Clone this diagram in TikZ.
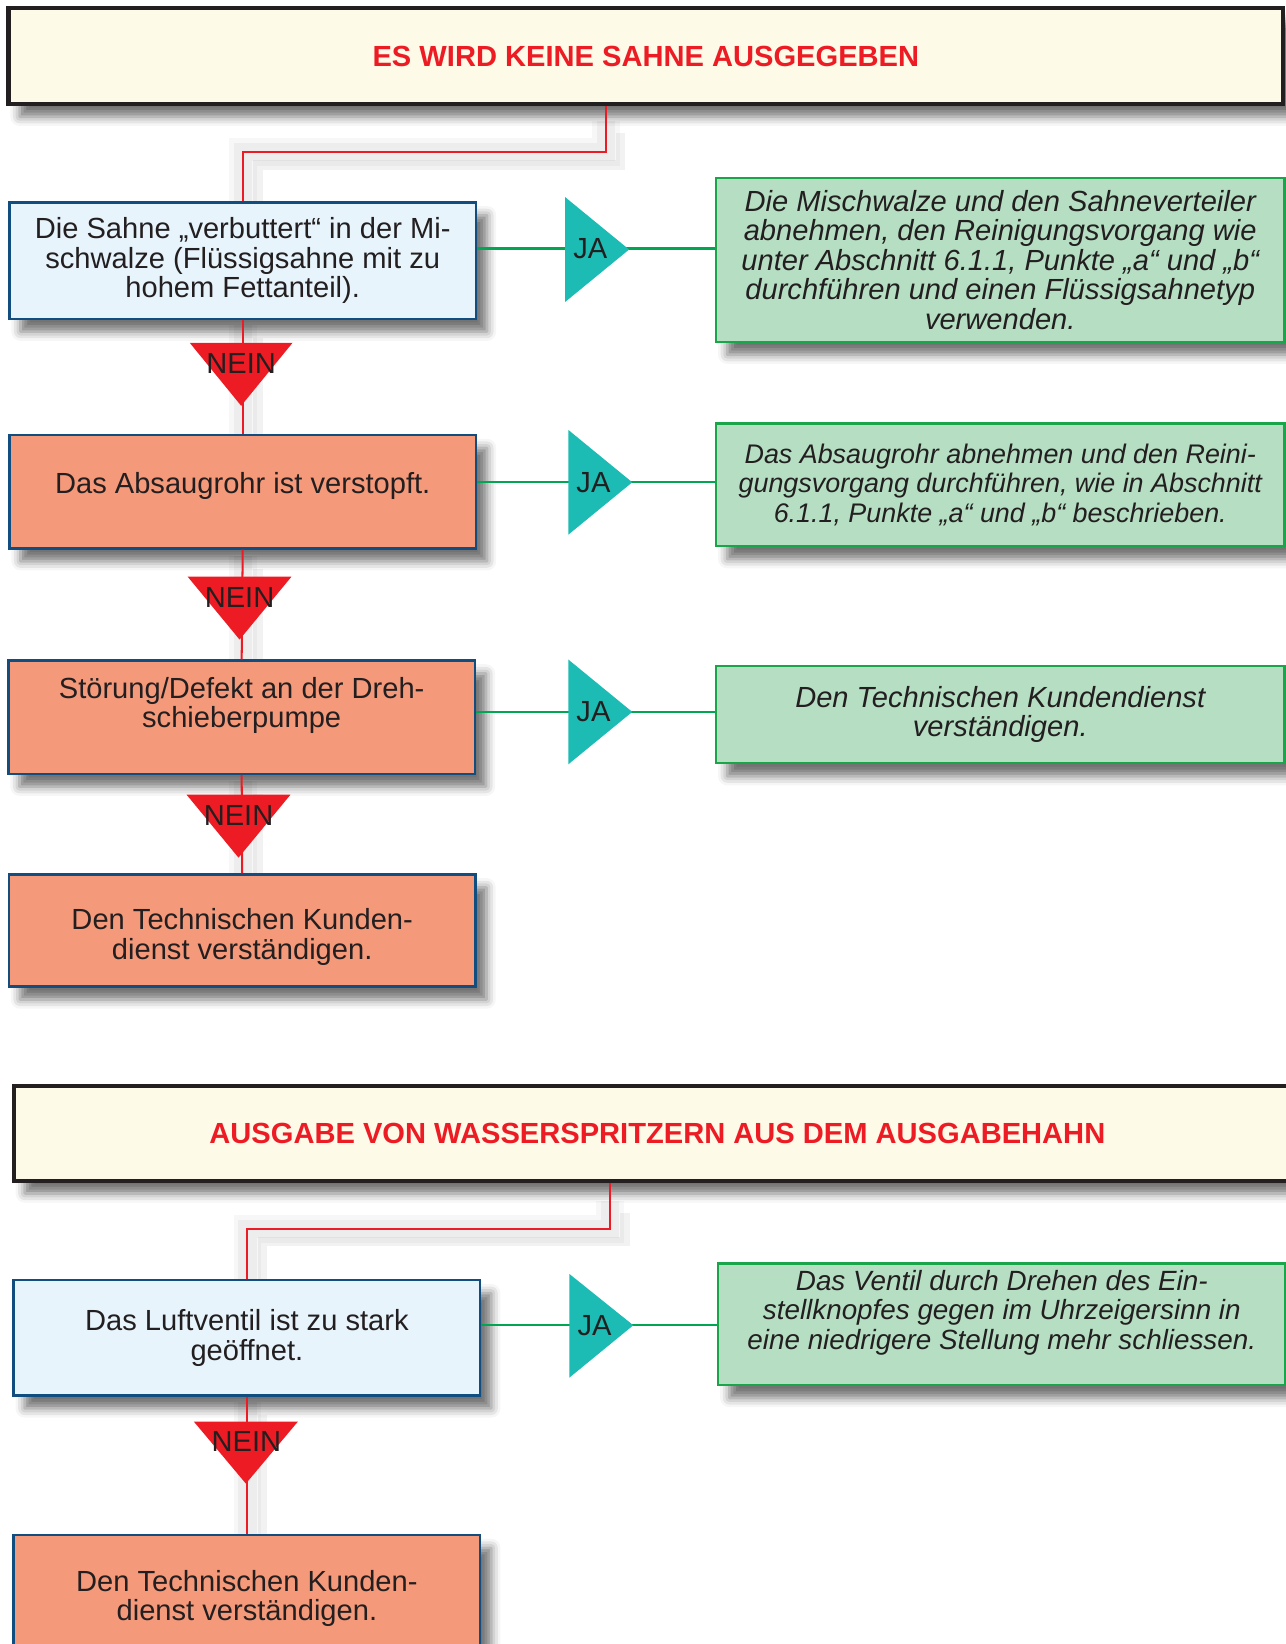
\documentclass[tikz,border=0pt]{standalone}
\usepackage{fontspec}
\setmainfont{Liberation Sans}
\usetikzlibrary{positioning,calc,shadows.blur}

\definecolor{titelrot}{HTML}{ED1C24}
\definecolor{titelrand}{HTML}{231F20}
\definecolor{creme}{HTML}{FEFAE8}
\definecolor{schrift}{HTML}{231F20}
\definecolor{frageblau}{HTML}{124D80}
\definecolor{hellblau}{HTML}{E7F4FB}
\definecolor{lachs}{HTML}{F4997A}
\definecolor{tuerkis}{HTML}{1CBBB4}
\definecolor{hellgruen}{HTML}{B5DEC2}
\definecolor{gruenrand}{HTML}{1BA54B}
\definecolor{jagruen}{HTML}{00A651}

\begin{document}
\begin{tikzpicture}[
  x=0.02cm, y=-0.02cm,
  boxschatten/.style={blur shadow={shadow xshift=6pt, shadow yshift=-7pt,
                      shadow blur radius=5pt, shadow opacity=55}},
  titel/.style={rectangle, draw=titelrand, line width=2.2pt, fill=creme,
                font=\fontsize{15.8}{16}\selectfont\bfseries, text=titelrot, boxschatten},
  frage/.style={rectangle, draw=frageblau, line width=1.3pt, minimum width=8.9cm,
                align=center, font=\fontsize{15.8}{16}\selectfont, text=schrift, boxschatten},
  frageblau/.style={frage, fill=hellblau},
  fragelachs/.style={frage, fill=lachs},
  antwort/.style={rectangle, draw=gruenrand, line width=1.3pt, fill=hellgruen,
                  minimum width=10.84cm, align=center, text=schrift,
                  font=\fontsize{15.8}{16}\selectfont\itshape, boxschatten},
  marke/.style={font=\fontsize{15.8}{16}\selectfont, text=schrift, inner sep=0pt},
  jatri/.style={fill=tuerkis},
  neintri/.style={fill=titelrot},
  jalinie/.style={draw=jagruen, line width=1.1pt},
  neinlinie/.style={draw=titelrot, line width=1.1pt},
  linienschatten/.style={draw=black, line width=5pt, draw opacity=0.05,
                         preaction={draw=black, line width=15pt, draw opacity=0.03},
                         preaction={draw=black, line width=10pt, draw opacity=0.04},
                         transform canvas={xshift=8pt, yshift=-7pt}},
]
  \useasboundingbox (0,0) rectangle (1226,1568);

  % ===== Block 1: keine Sahne =====
  \coordinate (k1) at (578,145);
  \draw[linienschatten] (578,115) -- (k1) -| (232,193);
  \draw[linienschatten] (232,310) -- (232,415);
  \draw[linienschatten] (232,530) -- (232,630);
  \draw[linienschatten] (232,745) -- (232,834);

  \node[titel, minimum width=24.32cm, minimum height=1.82cm] (titel1) at (616,53.5)
       {ES WIRD KEINE SAHNE AUSGEGEBEN};

  \node[frageblau, minimum height=2.22cm] (frage1) at (231.5,248.5)
       {Die Sahne „verbuttert“ in der Mi-\\schwalze (Flüssigsahne mit zu\\hohem Fettanteil).};
  \node[fragelachs, minimum height=2.16cm] (frage2) at (231.5,469)
       {\raisebox{3.4pt}[\height][\depth]{Das Absaugrohr ist verstopft.}};
  \node[fragelachs, minimum height=2.16cm] (frage3) at (230.5,684)
       {Störung/Defekt an der Dreh-\\schieberpumpe\\\mbox{}};
  \node[fragelachs, minimum height=2.14cm] (frage4) at (231,887.5)
       {\raisebox{-3.4pt}[\height][\depth]{Den Technischen Kunden-}\\
        \raisebox{-3.4pt}[\height][\depth]{dienst verständigen.}};

  \node[antwort, minimum height=3.12cm] (antwort1) at (954,248)
       {Die Mischwalze und den Sahneverteiler\\abnehmen, den Reinigungsvorgang wie\\unter Abschnitt 6.1.1, Punkte „a“ und „b“\\durchführen und einen Flüssigsahnetyp\\verwenden.};
  \node[antwort, minimum height=2.34cm, font=\fontsize{14.6}{16}\selectfont\itshape] (antwort2) at (954,462.5)
       {Das Absaugrohr abnehmen und den Reini-\\gungsvorgang durchführen, wie in Abschnitt\\6.1.1, Punkte „a“ und „b“ beschrieben.};
  \node[antwort, minimum height=1.86cm] (antwort3) at (954,681.5)
       {Den Technischen Kundendienst\\verständigen.};

  % connectors
  \draw[neinlinie] (titel1.south -| k1) -- (k1) -| (frage1.north);
  \draw[neinlinie] (frage1.south) -- (frage2.north);
  \draw[neinlinie] (frage2.south) -- (frage3.north);
  \draw[neinlinie] (frage3.south) -- (frage4.north);

  \node[marke] (ja1) at (563,237) {JA};
  \node[marke] (ja2) at (566,460) {JA};
  \node[marke] (ja3) at (566,679) {JA};
  \draw[jalinie] (frage1.east |- ja1) -- (antwort1.west |- ja1);
  \draw[jalinie] (frage2.east |- ja2) -- (antwort2.west |- ja2);
  \draw[jalinie] (frage3.east |- ja3) -- (antwort3.west |- ja3);

  % JA / NEIN triangles
  \fill[jatri] (539,188) -- (600,238) -- (539,288) -- cycle;
  \fill[jatri] (542,410) -- (603,460) -- (542,510) -- cycle;
  \fill[jatri] (542,629) -- (603,679) -- (542,729) -- cycle;
  \node[marke] at (ja1) {JA};
  \node[marke] at (ja2) {JA};
  \node[marke] at (ja3) {JA};

  \fill[neintri] (181,327) -- (279,327) -- (230,387) -- cycle;
  \fill[neintri] (179,550) -- (278,550) -- (228.5,610) -- cycle;
  \fill[neintri] (178,758) -- (277,758) -- (227.5,818) -- cycle;
  \node[marke] (nein1) at (230,347) {NEIN};
  \node[marke] (nein2) at (228.5,570) {NEIN};
  \node[marke] (nein3) at (227.5,778) {NEIN};

  % ===== Block 2: Wasserspritzer =====
  \coordinate (k2) at (582,1172);
  \draw[linienschatten] (582,1145) -- (k2) -| (236,1221);
  \draw[linienschatten] (236,1337) -- (236,1464);

  \node[titel, minimum width=24.56cm, minimum height=1.8cm] (titel2) at (627,1081)
       {AUSGABE VON WASSERSPRITZERN AUS DEM AUSGABEHAHN};

  \node[frageblau, minimum height=2.2cm] (frage5) at (235.5,1276)
       {Das Luftventil ist zu stark\\geöffnet.};
  \node[fragelachs, minimum height=2.16cm] (frage6) at (235.5,1518)
       {\raisebox{-3.8pt}[\height][\depth]{Den Technischen Kunden-}\\
        \raisebox{-3.8pt}[\height][\depth]{dienst verständigen.}};

  \node[antwort, minimum width=10.82cm, minimum height=2.32cm,
        font=\fontsize{15.1}{16}\selectfont\itshape] (antwort4) at (955.5,1263)
       {Das Ventil durch Drehen des Ein-\\stellknopfes gegen im Uhrzeigersinn in\\eine niedrigere Stellung mehr schliessen.\\\mbox{}};

  \draw[neinlinie] (titel2.south -| k2) -- (k2) -| (frage5.north);
  \draw[neinlinie] (frage5.south) -- (frage6.north);

  \node[marke] (ja4) at (567,1264) {JA};
  \draw[jalinie] (frage5.east |- ja4) -- (antwort4.west |- ja4);
  \fill[jatri] (543,1215) -- (604,1264) -- (543,1314) -- cycle;
  \node[marke] at (ja4) {JA};

  \fill[neintri] (185,1356) -- (284,1356) -- (234.5,1415) -- cycle;
  \node[marke] (nein4) at (235,1375) {NEIN};

\end{tikzpicture}
\end{document}
